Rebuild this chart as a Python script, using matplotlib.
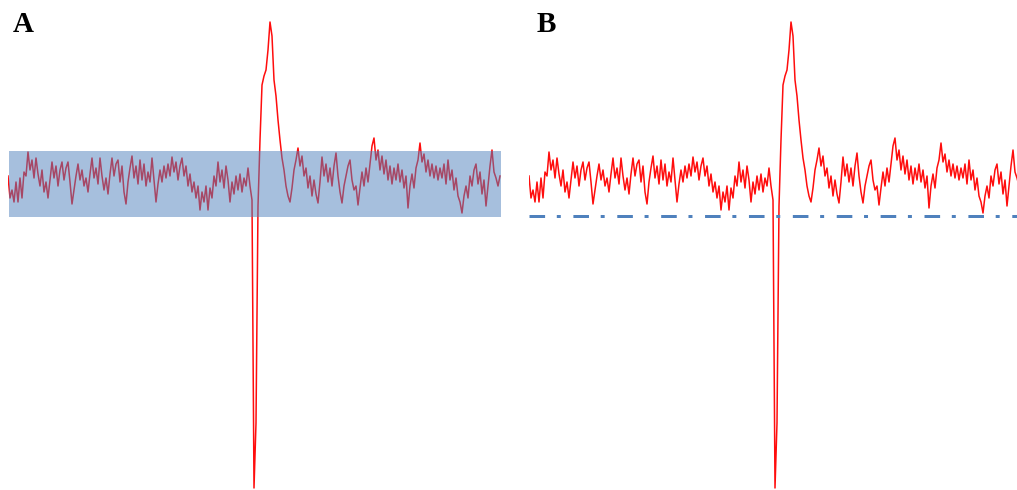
import matplotlib.pyplot as plt
import numpy as np

# recorded trace (amplitude above baseline), one value per sample step
signal = [
    40, 18, 26, 14, 34, 14, 38, 18, 44, 40,
    64, 46, 56, 38, 58, 42, 30, 46, 24, 34,
    18, 36, 54, 38, 50, 30, 46, 54, 36, 48,
    54, 34, 12, 26, 40, 52, 36, 46, 30, 38,
    24, 42, 58, 38, 48, 32, 58, 40, 26, 38,
    22, 42, 58, 40, 52, 56, 34, 50, 24, 12,
    34, 48, 60, 38, 50, 32, 56, 36, 52, 30,
    44, 34, 58, 36, 14, 32, 46, 34, 50, 38,
    52, 40, 59, 44, 54, 36, 50, 58, 40, 50,
    30, 42, 24, 34, 18, 30, 6, 24, 14, 30,
    6, 28, 18, 40, 30, 54, 34, 46, 28, 50,
    36, 14, 34, 22, 40, 26, 42, 24, 38, 30,
    48, 30, 16, -272, -207, 10, 76, 131, 140, 146,
    166, 194, 180, 136, 120, 96, 76, 58, 46, 30,
    20, 14, 28, 46, 56, 68, 50, 60, 40, 48,
    28, 40, 20, 36, 22, 13, 34, 59, 40, 52,
    34, 48, 30, 50, 63, 40, 24, 13, 30, 40,
    50, 56, 36, 26, 30, 11, 28, 44, 30, 48,
    34, 52, 70, 78, 56, 66, 46, 60, 42, 56,
    36, 50, 32, 48, 36, 52, 34, 46, 28, 40,
    8, 30, 42, 28, 48, 56, 73, 54, 62, 44,
    56, 40, 52, 38, 50, 36, 48, 38, 52, 32,
    56, 36, 46, 26, 38, 20, 14, 3, 20, 30,
    18, 40, 30, 46, 52, 32, 44, 22, 36, 10,
    30, 50, 66, 44, 38, 30, 40,
]
panel_labels = ['A', 'B']

# window of interest marked in panel A, threshold line in panel B
band_low, band_high = -1, 65
threshold = 0

BLUE = '#4F81BD'
W, H = 1017, 490

fig = plt.figure(figsize=(W / 100, H / 100), dpi=100)
samples = np.arange(len(signal))

axes = []
for left in (8, 529):
    ax = fig.add_axes([left / W, 0, 493 / W, 1])
    ax.plot(samples, signal, color='red', lw=1.1, alpha=0.95)
    ax.set_xlim(0, 246.5)
    ax.set_ylim(-274, 216)
    ax.axis('off')
    axes.append(ax)

# panel A: shaded band on top of the trace
axes[0].axhspan(band_low, band_high, xmin=0.5 / 246.5, xmax=1,
                color=BLUE, alpha=0.5, lw=0, zorder=3)

# panel B: dash-dot threshold
axes[1].axhline(threshold, color=BLUE, lw=2.16, dashes=(5.2, 3.9, 1.33, 4.2),
                dash_capstyle='butt', zorder=3)

for x, lab in zip((13, 537), panel_labels):
    fig.text(x / W, 1 - 32 / H, lab, fontsize=21, fontweight='bold',
             family='Liberation Serif', ha='left', va='baseline')

fig.savefig('out.png', dpi=100)
